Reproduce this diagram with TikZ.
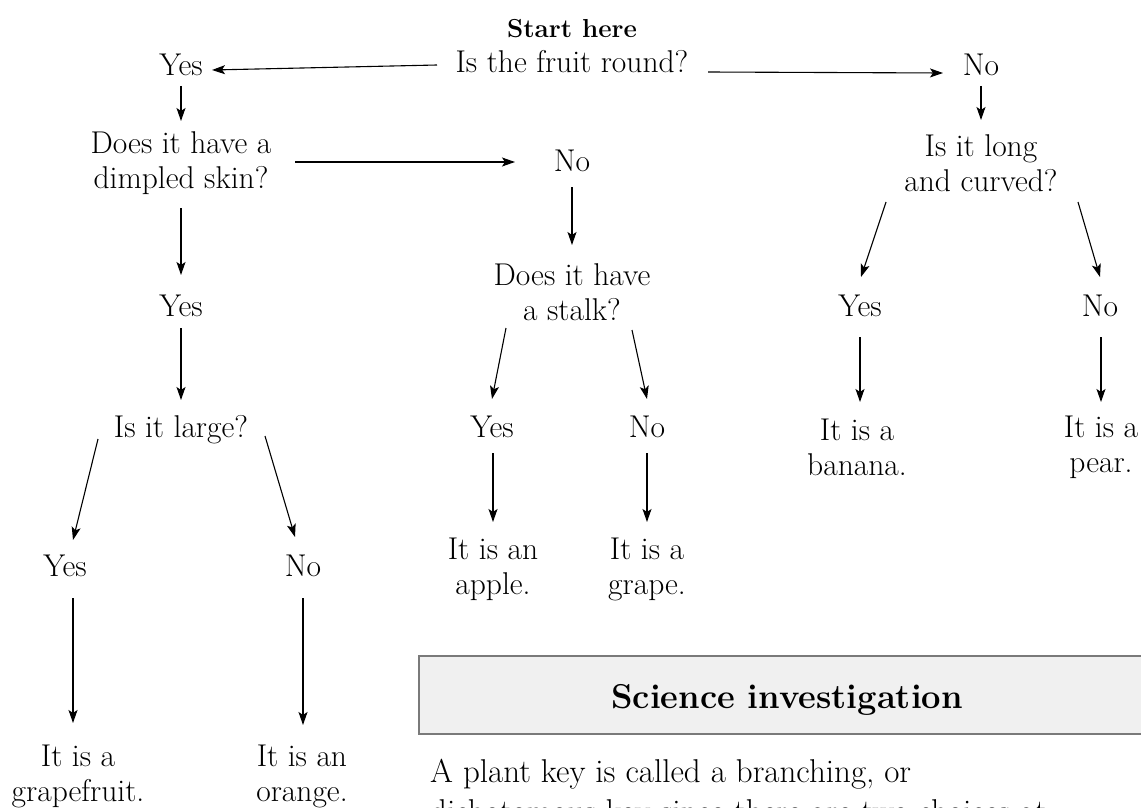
\documentclass[tikz,border=0pt]{standalone}
\usepackage{fontspec}
\usetikzlibrary{arrows.meta,calc}
\tikzset{
  lbl/.style={font=\fontsize{31.5}{35}\selectfont, align=center, inner sep=0pt},
  starttxt/.style={font=\fontsize{26}{30}\selectfont\bfseries, inner sep=0pt, anchor=base},
  arr/.style={-{Stealth[length=13pt,width=9pt,inset=3pt]}, line width=1.1pt},
  hdrbox/.style={draw=black!52, fill=black!6, line width=2pt, inner sep=0pt,
    minimum width=736pt, minimum height=78pt, anchor=north west,
    font=\fontsize{34.5}{40}\selectfont\bfseries, text height=30pt, text depth=4pt},
  bodytxt/.style={font=\fontsize{33}{40}\selectfont, align=left, inner sep=0pt, anchor=north west},
}
\newcommand\fcon[4]{\draw[arr] ($(#1)+(#2)$) -- ($(#3)+(#4)$);}
\begin{document}
\begin{tikzpicture}[x=1pt,y=-1pt]
\useasboundingbox (0,0) rectangle (1141,808);
\clip (0,0) rectangle (1141,808);
% nodes
\node[starttxt] (start) at (572,38) {Start here};
\node[lbl] (fruit) at (572,62) {Is the fruit round?};
\node[lbl] (yesA) at (181,65) {Yes};
\node[lbl] (noA) at (981,65) {No};
\node[lbl] (dimpled) at (181,163) {Does it have a\\dimpled skin?};
\node[lbl] (noB) at (572,161) {No};
\node[lbl] (curved) at (981,163) {Is it long\\and curved?};
\node[lbl] (stalk) at (572,292) {Does it have\\a stalk?};
\node[lbl] (yesC) at (492,427) {Yes};
\node[lbl] (noC) at (647,427) {No};
\node[lbl] (apple) at (493,569) {It is an\\apple.};
\node[lbl] (grape) at (647,569) {It is a\\grape.};
\node[lbl] (yesB) at (181,306) {Yes};
\node[lbl] (large) at (181,430) {Is it large?};
\node[lbl] (yesD) at (65,566) {Yes};
\node[lbl] (noD) at (303,566) {No};
\node[lbl] (grapefruit) at (78,776) {It is a\\grapefruit.};
\node[lbl] (orange) at (302,776) {It is an\\orange.};
\node[lbl] (yesE) at (860,306) {Yes};
\node[lbl] (noE) at (1100,306) {No};
\node[lbl] (banana) at (857,447) {It is a\\banana.};
\node[lbl] (pear) at (1101,447) {It is a\\pear.};
% connectors
\fcon{fruit}{-135,3}{yesA}{31,5}
\fcon{fruit}{136,10}{noA}{-38,8}
\fcon{yesA}{0,21}{dimpled}{0,-42}
\fcon{dimpled}{114,-1}{noB}{-57,1}
\fcon{noB}{0,26}{stalk}{0,-47}
\fcon{stalk}{-66,36}{yesC}{0,-28}
\fcon{stalk}{60,38}{noC}{0,-28}
\fcon{yesC}{1,26}{apple}{0,-47}
\fcon{noC}{0,26}{grape}{0,-47}
\fcon{dimpled}{0,45}{yesB}{0,-31}
\fcon{yesB}{0,22}{large}{0,-30}
\fcon{large}{-83,9}{yesD}{8,-26}
\fcon{large}{84,6}{noD}{-8,-29}
\fcon{yesD}{8,32}{grapefruit}{-5,-53}
\fcon{noD}{0,32}{orange}{1,-51}
\fcon{noA}{0,21}{curved}{0,-43}
\fcon{curved}{-95,39}{yesE}{1,-29}
\fcon{curved}{97,39}{noE}{0,-29}
\fcon{yesE}{0,31}{banana}{3,-45}
\fcon{noE}{1,31}{pear}{0,-45}
% science investigation box
\node[hdrbox] (hdr) at (418,655) {Science investigation};
\node[bodytxt] (body) at (430,759) {A plant key is called a branching, or\\dichotomous key since there are two choices at};
\end{tikzpicture}
\end{document}
